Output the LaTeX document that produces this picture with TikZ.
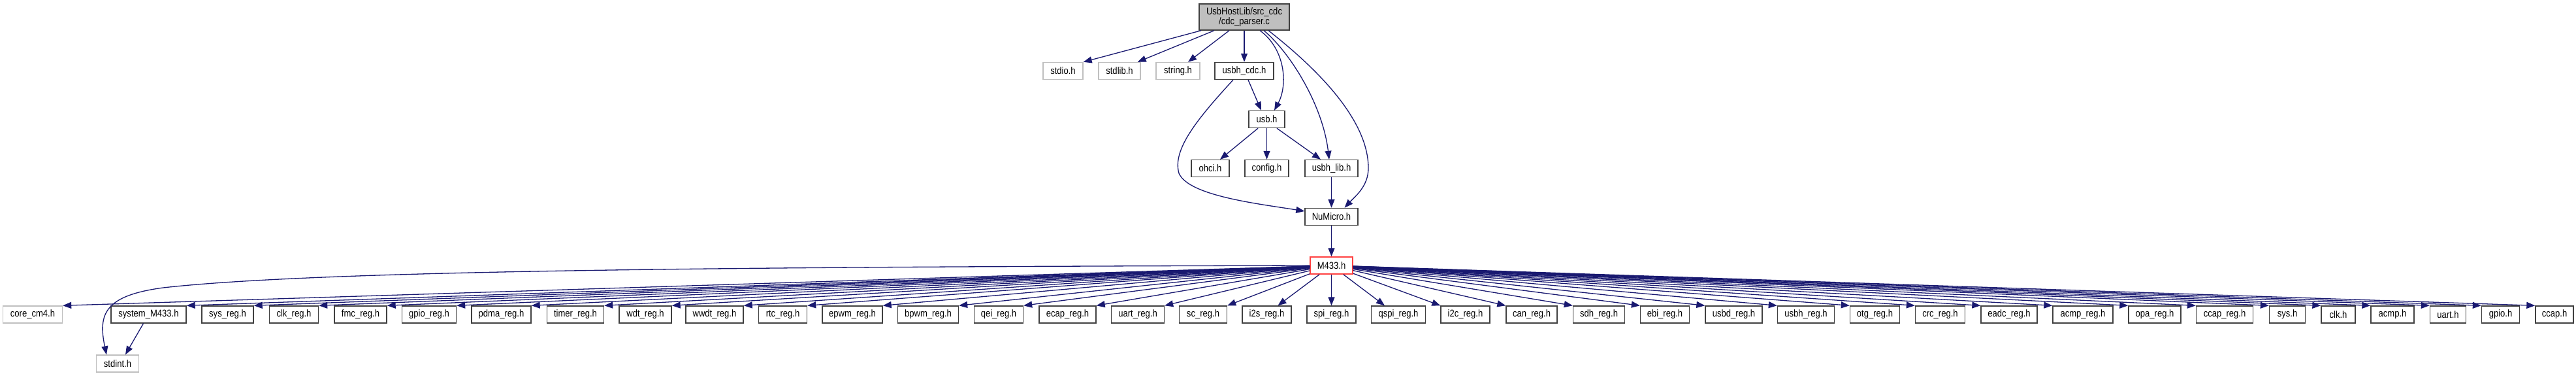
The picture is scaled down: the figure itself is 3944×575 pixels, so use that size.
\documentclass[tikz,border=0pt]{standalone}
\usepackage{fontspec}
\setmainfont{Liberation Sans}[FakeStretch=0.87]
\usetikzlibrary{arrows.meta}
\definecolor{edgeblue}{HTML}{191970}
\definecolor{lgray}{HTML}{BFBFBF}
\definecolor{bord}{HTML}{404040}
\definecolor{mred}{HTML}{FF4040}
\tikzset{
  box/.style={draw=bord, line width=1.4pt, fill=white, inner sep=0pt, minimum height=26pt, font=\fontsize{15}{15}\selectfont},
  ext/.style={box, draw=lgray},
  edge/.style={draw=edgeblue, line width=1.3pt, -{Triangle[length=13pt,width=10pt]}},
}
\begin{document}
\begin{tikzpicture}[x=1pt,y=-1pt]
\useasboundingbox (0,0) rectangle (3944,575);
% upper part
\node[box, fill=lgray, minimum width=138pt, minimum height=40pt, align=center] (root) at (1905,26) {UsbHostLib/src\_cdc\\/cdc\_parser.c};
\node[ext, minimum width=61pt] (stdio) at (1627.5,108.5) {stdio.h};
\node[ext, minimum width=64pt] (stdlib) at (1714,108.5) {stdlib.h};
\node[ext, minimum width=67pt] (string) at (1803.5,108.5) {string.h};
\node[box, minimum width=90pt] (usbhcdc) at (1905,108.5) {usbh\_cdc.h};
\node[box, minimum width=55pt] (usb) at (1939.5,182.5) {usb.h};
\node[box, minimum width=58pt] (ohci) at (1853,257.5) {ohci.h};
\node[box, minimum width=67pt] (config) at (1939.5,257.5) {config.h};
\node[box, minimum width=81pt] (usbhlib) at (2038.5,257.5) {usbh\_lib.h};
\node[box, minimum width=81pt] (numicro) at (2038.5,331.5) {NuMicro.h};
\node[box, draw=mred, minimum width=65pt] (m433) at (2038.5,406) {M433.h};
\node[ext, minimum width=65pt] (stdint) at (180,556) {stdint.h};
\node[ext, minimum width=91pt] (corecm4) at (50,481) {core\_cm4.h};

% upper edges
\draw[edge] ([xshift=-66pt]root.south) -- (stdio.north east);
\draw[edge] ([xshift=-46pt]root.south) -- ([xshift=-5pt]stdlib.north east);
\draw[edge] ([xshift=-23pt]root.south) -- ([xshift=15.5pt]string.north);
\draw[edge] (root) -- (usbhcdc);
\draw[edge] ([xshift=24pt]root.south) .. controls (1968,75) and (1972,130) .. ([xshift=11.5pt]usb.north);
\draw[edge] ([xshift=30pt]root.south) .. controls (1975,80) and (2025,160) .. ([xshift=-3.5pt]usbhlib.north);
\draw[edge] ([xshift=37pt]root.south) .. controls (2010,100) and (2095,180) .. (2095,257) .. controls (2095,285) and (2075,300) .. ([xshift=20pt]numicro.north);
\draw[edge] ([xshift=6pt]usbhcdc.south) -- ([xshift=-8.5pt]usb.north);
\draw[edge] ([xshift=-17pt]usbhcdc.south) .. controls (1830,185) and (1795,230) .. (1805,265) .. controls (1820,300) and (1930,312) .. ([yshift=8.5pt]numicro.west);
\draw[edge] ([xshift=-13.5pt]usb.south) -- ([xshift=15pt]ohci.north);
\draw[edge] (usb) -- (config);
\draw[edge] ([xshift=15.5pt]usb.south) -- ([xshift=-16.5pt]usbhlib.north);
\draw[edge] (usbhlib) -- (numicro);
\draw[edge] (numicro) -- (m433);

% bottom row, left of M433
\draw[edge] (m433) -- (corecm4.north east);
\foreach \n/\x/\w/\t in {systemM433/227.5/115/system\_M433.h, sysreg/348.5/79/sys\_reg.h, clkreg/450/75/clk\_reg.h, fmcreg/552/80/fmc\_reg.h, gpioreg/657/83/gpio\_reg.h, pdmareg/767.5/91/pdma\_reg.h, timerreg/881/87/timer\_reg.h, wdtreg/988/80/wdt\_reg.h, wwdtreg/1094/88/wwdt\_reg.h, rtcreg/1198.5/74/rtc\_reg.h, epwmreg/1305/92/epwm\_reg.h, bpwmreg/1421/93/bpwm\_reg.h, qeireg/1529/75/qei\_reg.h, ecapreg/1634.5/87/ecap\_reg.h, uartreg/1742/81/uart\_reg.h, screg/1842/73/sc\_reg.h}{
  \node[box, minimum width=\w pt] (\n) at (\x,481) {\t};
  \draw[edge] (m433) -- (\n.north east);
}
% middle
\node[box, minimum width=75pt] (i2sreg) at (1939.5,481) {i2s\_reg.h};
\node[box, minimum width=75pt] (spireg) at (2038.5,481) {spi\_reg.h};
\node[box, minimum width=83pt] (qspireg) at (2141,481) {qspi\_reg.h};
\draw[edge] (m433) -- ([xshift=17pt]i2sreg.north);
\draw[edge] (m433) -- (spireg);
\draw[edge] (m433) -- ([xshift=-21pt]qspireg.north);
% right of M433
\foreach \n/\x/\w/\t in {i2creg/2243.5/75/i2c\_reg.h, canreg/2345/78/can\_reg.h, sdhreg/2448/79/sdh\_reg.h, ebireg/2549/75/ebi\_reg.h, usbdreg/2654.5/87/usbd\_reg.h, usbhreg/2765/87/usbh\_reg.h, otgreg/2870.5/76/otg\_reg.h, crcreg/2970.5/76/crc\_reg.h, eadcreg/3076/86/eadc\_reg.h, acmpreg/3189/92/acmp\_reg.h, opareg/3299/80/opa\_reg.h, ccapreg/3406/87/ccap\_reg.h, sysh/3502/55/sys.h, clkh/3580/52/clk.h, acmph/3663/66/acmp.h, uarth/3748/55/uart.h, gpioh/3828.5/58/gpio.h, ccaph/3911/58/ccap.h}{
  \node[box, minimum width=\w pt] (\n) at (\x,481) {\t};
  \draw[edge] (m433) -- (\n.north west);
}
% stdint
\draw[edge] ([xshift=-8pt]systemM433.south) -- ([xshift=12pt]stdint.north);
\draw[edge] (m433.west) .. controls (1200,408) and (500,412) .. (250,440) .. controls (160,452) and (150,480) .. ([xshift=-17pt]stdint.north);
\end{tikzpicture}
\end{document}
